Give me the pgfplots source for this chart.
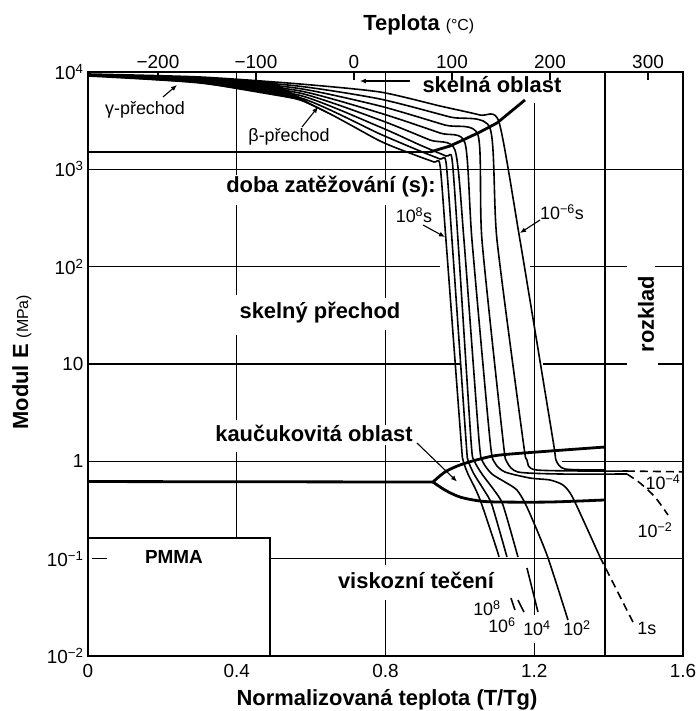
\documentclass[border=0pt]{standalone}
\usepackage{fontspec}
\setmainfont{Liberation Sans}
\usepackage{pgfplots}
\pgfplotsset{compat=1.18}
\usetikzlibrary{arrows.meta}
\newcommand{\tlf}{\fontsize{19}{19}\selectfont}
\newcommand{\lbf}{\fontsize{22}{22}\selectfont\bfseries}
\newcommand{\smf}{\fontsize{18}{18}\selectfont}
\newcommand{\unf}{\fontsize{16}{16}\selectfont\mdseries}
\tikzset{gl/.style={line width=1.3bp},
  cv/.style={black, line width=1.6bp, no marks},
  th/.style={black, line width=2.8bp, no marks},
  dsh/.style={black, line width=1.6bp, no marks, dash pattern=on 8bp off 5bp},
  pt/.style={line width=1.1bp, -{Latex[length=6bp,width=5bp]}}}
\begin{document}
\begin{tikzpicture}
\begin{axis}[
  name=main, at={(0,0)}, anchor=south west,
  width=595bp, height=584bp, scale only axis,
  xmin=0, xmax=1.6, ymin=0.01, ymax=10000, ymode=log,
  axis line style={line width=1.6bp},
  xtick={0,0.4,0.8,1.2,1.6}, xticklabels={0,0.4,0.8,1.2,1.6},
  ytick={0.01,0.1,1,10,100,1000,10000},
  yticklabels={10\textsuperscript{−2},10\textsuperscript{−1},1,10,10\textsuperscript{2},10\textsuperscript{3},10\textsuperscript{4}},
  major tick length=0pt, yminorticks=false, xminorticks=false,
  tick label style={font=\tlf},
  xticklabel style={yshift=-5bp},
  yticklabel style={xshift=-1bp},
  clip=false,
]
% ---- grid segments
\draw[gl] (axis cs:0,1000) -- (axis cs:1.6,1000);
\draw[gl] (axis cs:0,100) -- (axis cs:0.9465,100);
\draw[gl] (axis cs:1.1885,100) -- (axis cs:1.4493,100);
\draw[gl] (axis cs:1.5246,100) -- (axis cs:1.6,100);
\draw[gl] (axis cs:0,10) -- (axis cs:1.0003,10);
\draw[gl] (axis cs:1.2234,10) -- (axis cs:1.4493,10);
\draw[gl] (axis cs:1.5327,10) -- (axis cs:1.6,10);
\draw[gl] (axis cs:0,1) -- (axis cs:1.0003,1);
\draw[gl] (axis cs:1.2745,1) -- (axis cs:1.6,1);
\draw[gl] (axis cs:0.0108,0.1) -- (axis cs:0.0511,0.1);
\draw[gl] (axis cs:0.4894,0.1) -- (axis cs:1.6,0.1);
% verticals
\draw[gl] (axis cs:0.4,10000) -- (axis cs:0.4,874);
\draw[gl] (axis cs:0.4,430) -- (axis cs:0.4,51.1);
\draw[gl] (axis cs:0.4,19.9) -- (axis cs:0.4,2.66);
\draw[gl] (axis cs:0.4,1.247) -- (axis cs:0.4,0.163);
\draw[gl] (axis cs:0.8,10000) -- (axis cs:0.8,777);
\draw[gl] (axis cs:0.8,430) -- (axis cs:0.8,47.6);
\draw[gl] (axis cs:0.8,22.4) -- (axis cs:0.8,2.36);
\draw[gl] (axis cs:0.8,1.47) -- (axis cs:0.8,0.086);
\draw[gl] (axis cs:0.8,0.0376) -- (axis cs:0.8,0.01);
\draw[gl] (axis cs:1.2,4805) -- (axis cs:1.2,0.0264);
\draw[gl] (axis cs:1.2,0.0136) -- (axis cs:1.2,0.01);
\draw[line width=2.2bp] (axis cs:1.3902,10000) -- (axis cs:1.3902,0.01);
% PMMA box
\draw[gl] (axis cs:0,0.163) -- (axis cs:0.4894,0.163) -- (axis cs:0.4894,0.01);

% ---- dark glassy band where the curves merge
\addplot[fill=black, draw=none] coordinates {(0,9540) (0.3012,8885) (0.5,7862) (0.66,3500) (0.57,5155) (0.3012,7710) (0,9100)} -- cycle;

% ---- thick region lines
\addplot[th] coordinates {(0,1507) (0.9196,1507)};
\addplot[th] coordinates {(0.9196,1507) (0.9734,1737) (1.0084,2001) (1.0540,2418) (1.0998,2992) (1.1750,5155)};
\addplot[th] coordinates {(0,0.62) (0.9277,0.613)};
\addplot[th, smooth] coordinates {(0.9277,0.613) (0.9599,0.777) (1.0003,0.917) (1.0540,1.056) (1.1078,1.161) (1.2423,1.276) (1.3902,1.403)};
\addplot[th, smooth] coordinates {(0.9277,0.613) (0.9599,0.507) (1.0003,0.430) (1.0540,0.391) (1.1078,0.382) (1.2423,0.382) (1.3902,0.401)};

% ---- modulus curves (loading times 1e8 ... 1e-6 s)
\addplot[cv, smooth, tension=0.4] coordinates {(0,9100) (0.3012,7710) (0.5700,5155) (0.7852,1955) (0.8793,1403) (0.9304,1189) (0.9465,1108) (0.9626,188) (1.0030,1.656) (1.0084,1.032) (1.0218,0.741) (1.0433,0.507) (1.0594,0.356) (1.0998,0.1227) (1.1051,0.104)};
\addplot[cv] coordinates {(1.1374,0.0394) (1.1482,0.0297)};
\addplot[cv, smooth, tension=0.4] coordinates {(0,9316) (0.3012,7875) (0.5700,5445) (0.7852,2307) (0.8927,1543) (0.9465,1277) (0.9626,1189) (0.9788,188) (1.0164,1.656) (1.0218,1.032) (1.0379,0.741) (1.0648,0.507) (1.0863,0.356) (1.1266,0.104)};
\addplot[cv] coordinates {(1.1562,0.0376) (1.1724,0.0283)};
\addplot[cv, smooth, tension=0.4] coordinates {(0,9316) (0.3012,8025) (0.5700,5750) (0.7852,2722) (0.8927,1778) (0.9626,1371) (0.9788,1277) (0.9949,188) (1.0298,1.656) (1.0379,1.032) (1.0594,0.741) (1.0917,0.507) (1.1159,0.356) (1.1562,0.104)};
\addplot[cv] coordinates {(1.1804,0.0801) (1.2100,0.0283)};
\addplot[cv, smooth, tension=0.4] coordinates {(0,9316) (0.3012,8200) (0.5700,6070) (0.7852,3213) (0.9196,2001) (0.9868,1580) (1.0110,188) (1.0514,1.656) (1.0621,0.984) (1.0863,0.741) (1.1213,0.613) (1.1535,0.507) (1.1804,0.339) (1.2342,0.109) (1.2907,0.0234)};
\addplot[cv, smooth, tension=0.4] coordinates {(0,9316) (0.3012,8355) (0.5700,6395) (0.7852,3792) (0.9465,2362) (1.0137,1865) (1.0325,188) (1.0809,1.656) (1.0944,0.961) (1.1213,0.777) (1.1885,0.674) (1.2423,0.643) (1.2772,0.571) (1.3041,0.420) (1.3767,0.104)};
\addplot[dsh] coordinates {(1.3767,0.104) (1.4655,0.0223)};
\addplot[cv, smooth, tension=0.4] coordinates {(0,9316) (0.3012,8535) (0.5700,6750) (0.7852,4475) (0.9599,2850) (1.0487,2252) (1.0594,188) (1.1159,1.656) (1.1266,0.984) (1.1562,0.777) (1.2692,0.741) (1.4493,0.741)};
\addplot[dsh, smooth] coordinates {(1.4493,0.741) (1.4843,0.599) (1.5246,0.430) (1.5596,0.281)};
\addplot[cv, smooth, tension=0.4] coordinates {(0,9316) (0.3012,8700) (0.5700,7130) (0.7852,5280) (0.9734,3450) (1.0809,2658) (1.0998,188) (1.1697,1.656) (1.1804,1.032) (1.2073,0.814) (1.4493,0.795)};
\addplot[dsh] coordinates {(1.4493,0.795) (1.6,0.78)};
\addplot[cv, smooth, tension=0.4] coordinates {(0,9540) (0.3012,8885) (0.5700,7530) (0.7852,6230) (0.9465,4475) (1.0540,3615) (1.1051,3064) (1.1616,188) (1.2503,1.656) (1.2584,1.032) (1.2826,0.834) (1.3902,0.814)};

% ---- annotations
\node[font=\lbf] at (axis cs:1.0863,7350) {skelná oblast};
\draw[pt] (axis cs:0.8658,8080) -- (axis cs:0.7314,8080);
\node[font=\smf] at (axis cs:0.1533,4070) {γ-přechod};
\draw[pt] (axis cs:0.2017,5537) -- (axis cs:0.2393,7350);
\node[font=\smf] at (axis cs:0.5405,2149) {β-přechod};
\draw[pt] (axis cs:0.5754,2722) -- (axis cs:0.6185,4370);
\node[font=\lbf] at (axis cs:0.6534,658) {doba zatěžování (s):};
\node[font=\smf] at (axis cs:0.8766,339.5) {10\textsuperscript{8}s};
\draw[pt] (axis cs:0.9008,268) -- (axis cs:0.9599,201.7);
\node[font=\smf] at (axis cs:1.2745,364.5) {10\textsuperscript{−6}s};
\draw[pt] (axis cs:1.2154,301.6) -- (axis cs:1.1616,221.7);
\node[font=\lbf] at (axis cs:0.6238,33.4) {skelný přechod};
\node[font=\lbf, rotate=90] at (axis cs:1.5004,32.6) {rozklad};
\node[font=\lbf] at (axis cs:0.6077,1.954) {kaučukovitá oblast};
\draw[pt] (axis cs:0.8846,1.543) -- (axis cs:0.9922,0.62);
\node[font=\lbf] at (axis cs:0.8820,0.0603) {viskozní tečení};
\node[font=\fontsize{19}{19}\selectfont\bfseries] at (axis cs:0.2312,0.104) {PMMA};
\node[font=\smf] at (axis cs:1.0729,0.0311) {10\textsuperscript{8}};
\node[font=\smf] at (axis cs:1.1132,0.0208) {10\textsuperscript{6}};
\node[font=\smf] at (axis cs:1.2073,0.0194) {10\textsuperscript{4}};
\node[font=\smf] at (axis cs:1.3149,0.0194) {10\textsuperscript{2}};
\node[font=\smf] at (axis cs:1.5031,0.0194) {1s};
\node[font=\smf] at (axis cs:1.5461,0.613) {10\textsuperscript{−4}};
\node[font=\smf] at (axis cs:1.5246,0.197) {10\textsuperscript{−2}};
% axis titles
\node[font=\lbf] at (axis description cs:0.5025,-0.0753) {Normalizovaná teplota (T/Tg)};
\node[font=\lbf, rotate=90] at (axis description cs:-0.111,0.503) {Modul E {\unf(MPa)}};
\node[font=\lbf] at (axis description cs:0.556,1.0805) {Teplota {\unf(°C)}};
\end{axis}
\begin{axis}[
  at={(main.south west)}, anchor=south west,
  width=595bp, height=584bp, scale only axis,
  xmin=-271.4, xmax=335.7, ymin=0, ymax=1,
  axis x line*=top, axis y line=none,
  axis line style={line width=1.6bp},
  xtick={-200,-100,0,100,200,300},
  xticklabels={−200,−100,0,100,200,300},
  tick align=inside, major tick length=8bp,
  xtick style={line width=1.2bp, black},
  tick label style={font=\tlf},
  xticklabel style={yshift=0bp},
]
\end{axis}
\pgfresetboundingbox
\path[use as bounding box] ([xshift=-88bp,yshift=-55bp]main.south west) rectangle ([xshift=13bp,yshift=72bp]main.north east);
\end{tikzpicture}
\end{document}
